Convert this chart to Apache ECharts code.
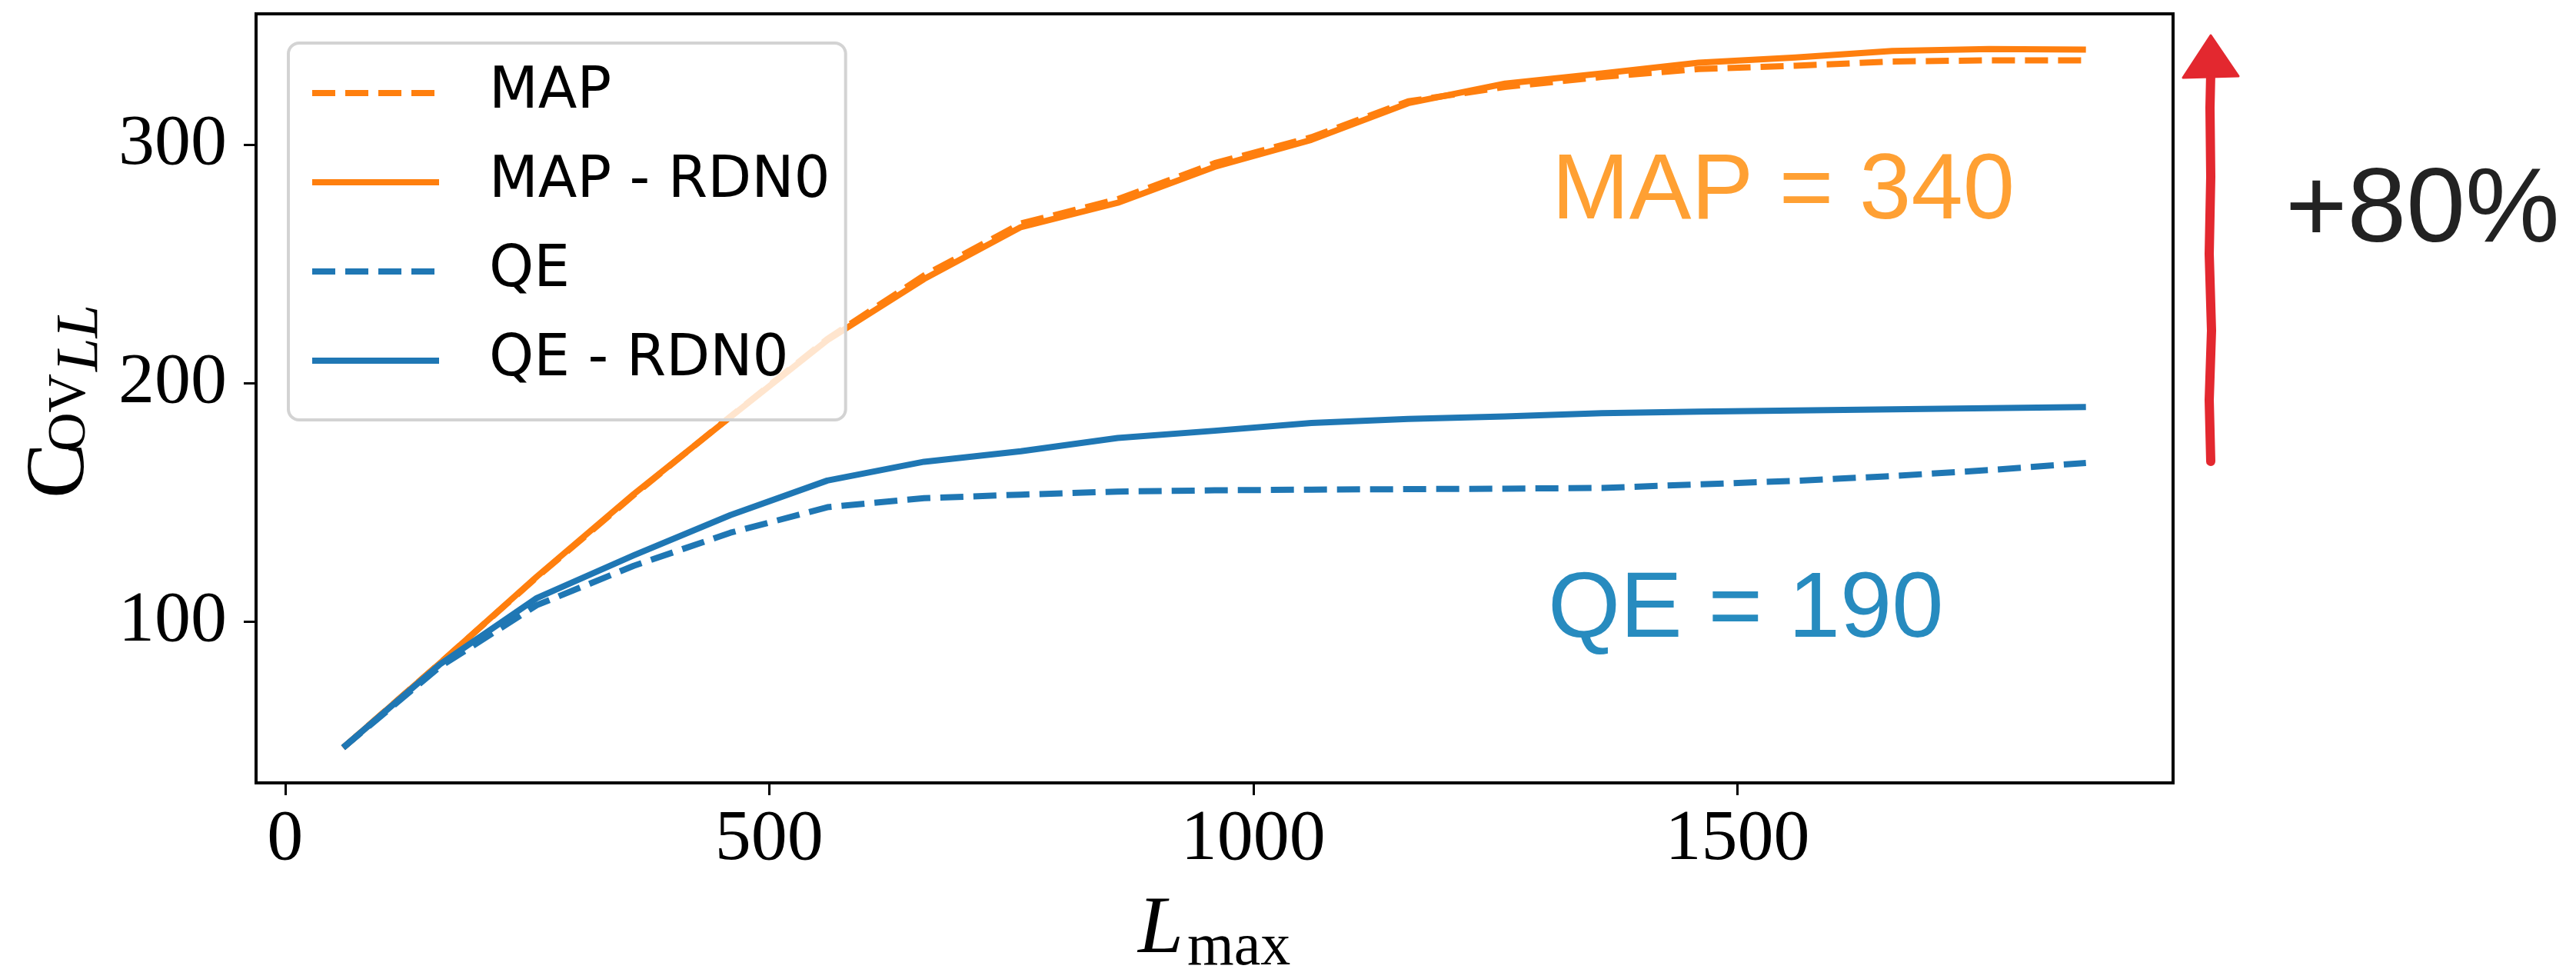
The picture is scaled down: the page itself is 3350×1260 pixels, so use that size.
<!DOCTYPE html>
<html>
<head>
<meta charset="utf-8">
<script src="https://cdn.jsdelivr.net/npm/echarts@6/dist/echarts.min.js"></script>
<style>
  html, body { margin: 0; padding: 0; background: #ffffff; }
  #chart { width: 3350px; height: 1260px; }
</style>
</head>
<body>
<div id="chart"></div>
<script>
// Maximum multipole used in the lensing reconstruction
const lmax = [60, 160, 260, 360, 460, 560, 660, 760, 860, 960, 1060, 1160, 1260, 1360, 1460, 1560, 1660, 1760, 1860];

// Cov_LL for each estimator
const mapVals   = [47, 82.5, 118.5, 153, 186, 218.5, 245.2, 267, 277.2, 292.3, 303.2, 318.3, 324.3, 328.5, 331.8, 333.2, 335, 335.5, 335.5];
const mapRdn0   = [47, 82.5, 118.8, 153.4, 185.8, 218, 243.7, 265.5, 275.7, 290.8, 302.1, 317.5, 325.7, 330, 334.5, 336.7, 339.4, 340.2, 340];
const qeVals    = [47, 81, 106.8, 123.3, 137.2, 147.9, 151.7, 153.2, 154.5, 155, 155.3, 155.5, 155.7, 156, 157.5, 159, 161, 163.5, 166.5];
const qeRdn0    = [47, 82, 109.8, 127.7, 144.6, 159.1, 167, 171.4, 177, 180, 183.3, 185, 186, 187.4, 188, 188.5, 189, 189.5, 190];

const seriesNames = ['MAP', 'MAP - RDN0', 'QE', 'QE - RDN0'];
const xTicks = [0, 500, 1000, 1500];
const yTicks = [100, 200, 300];

const ORANGE = '#ff7f0e';
const BLUE = '#1f77b4';
const DASH = [30, 13];

const pairs = vals => lmax.map((l, i) => [l, vals[i]]);

function lineSeries(name, vals, color, dashed) {
  return {
    name: name,
    type: 'line',
    data: pairs(vals),
    symbol: 'none',
    showSymbol: false,
    smooth: false,
    animation: false,
    lineStyle: { color: color, width: 8, type: dashed ? DASH : 'solid', cap: 'butt', join: 'round' },
    itemStyle: { color: color }
  };
}

const chart = echarts.init(document.getElementById('chart'), null, { renderer: 'canvas' });

const serif = 'Liberation Serif';
const sans = 'Liberation Sans';

chart.setOption({
  backgroundColor: '#ffffff',
  animation: false,
  grid: {
    left: 333, top: 18, right: 524, bottom: 242,
    show: true, borderColor: '#000', borderWidth: 4, backgroundColor: 'transparent'
  },
  xAxis: {
    type: 'value',
    min: -30, max: 1950,
    splitLine: { show: false },
    axisLine: { show: true, onZero: false, lineStyle: { color: '#000', width: 4 } },
    axisTick: { show: true, inside: false, length: 16, lineStyle: { color: '#000', width: 3 }, customValues: xTicks },
    axisLabel: { show: true, margin: 27, color: '#000', fontFamily: serif, fontSize: 94, customValues: xTicks, formatter: v => String(v) }
  },
  yAxis: {
    type: 'value',
    min: 32.2, max: 355,
    splitLine: { show: false },
    axisLine: { show: true, onZero: false, lineStyle: { color: '#000', width: 4 } },
    axisTick: { show: true, inside: false, length: 16, lineStyle: { color: '#000', width: 3 }, customValues: yTicks },
    axisLabel: { show: true, margin: 38, color: '#000', fontFamily: serif, fontSize: 94, customValues: yTicks, formatter: v => String(v) }
  },
  legend: {
    orient: 'vertical',
    left: 375, top: 56,
    data: seriesNames,
    itemWidth: 165, itemHeight: 20, itemGap: 36,
    padding: [25, 20, 37, 27],
    backgroundColor: 'rgba(255,255,255,0.8)',
    borderColor: '#d3d3d3', borderWidth: 4, borderRadius: 14,
    itemStyle: { opacity: 0 },
    lineStyle: { width: 8 },
    textStyle: { fontFamily: 'DejaVu Sans', fontSize: 74, color: '#000', lineHeight: 80, padding: [0, 0, 0, 60] },
    selectedMode: false
  },
  series: [
    lineSeries('MAP', mapVals, ORANGE, true),
    lineSeries('MAP - RDN0', mapRdn0, ORANGE, false),
    lineSeries('QE', qeVals, BLUE, true),
    lineSeries('QE - RDN0', qeRdn0, BLUE, false)
  ],
  graphic: [
    // y-axis title: Cov_{LL}, reading bottom to top
    {
      type: 'group', x: 113, y: 645, rotation: Math.PI / 2,
      children: [
        { type: 'text', x: -3, y: -33, style: { text: 'C', fontFamily: serif, fontSize: 108, fill: '#000', verticalAlign: 'middle' } },
        { type: 'text', x: 58, y: -21, style: { text: 'OV', fontFamily: serif, fontSize: 70, fill: '#000', verticalAlign: 'middle' } },
        { type: 'text', x: 162, y: -8, style: { text: 'LL', fontFamily: serif, fontStyle: 'italic', fontSize: 78, fill: '#000', verticalAlign: 'middle' } }
      ]
    },
    // x-axis title: L_max
    { type: 'text', x: 1480, y: 1210, style: { text: 'L', fontFamily: serif, fontStyle: 'italic', fontSize: 106, fill: '#000', verticalAlign: 'middle' } },
    { type: 'text', x: 1544, y: 1234, style: { text: 'max', fontFamily: serif, fontSize: 78, fill: '#000', verticalAlign: 'middle' } },
    // value callouts
    { type: 'text', x: 2018, y: 251, style: { text: 'MAP = 340', fontFamily: sans, fontSize: 121, fill: '#ffa033', verticalAlign: 'middle' } },
    { type: 'text', x: 2013, y: 795, style: { text: 'QE = 190', fontFamily: sans, fontSize: 121, fill: '#278bbf', verticalAlign: 'middle' } },
    // improvement arrow
    {
      type: 'polyline',
      shape: { points: [[2875, 600], [2873, 520], [2876, 430], [2873, 330], [2875, 230], [2874, 140], [2875, 95]] },
      style: { stroke: '#e3282f', lineWidth: 12, fill: null, lineCap: 'round', lineJoin: 'round' }
    },
    {
      type: 'polygon',
      shape: { points: [[2839, 101], [2911, 99], [2875, 46]] },
      style: { fill: '#e3282f', stroke: '#e3282f', lineWidth: 3, lineJoin: 'round' }
    },
    { type: 'text', x: 2972, y: 276, style: { text: '+80%', fontFamily: sans, fontSize: 138, fill: '#222222', verticalAlign: 'middle' } }
  ]
});
</script>
</body>
</html>
